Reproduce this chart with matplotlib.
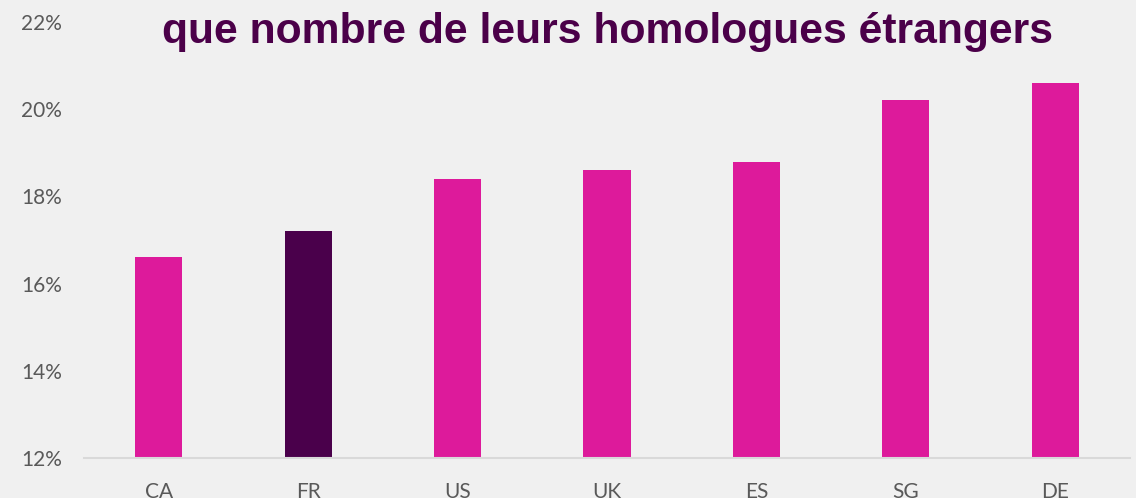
import matplotlib.pyplot as plt
import numpy as np

countries = ["CA", "FR", "US", "UK", "ES", "SG", "DE"]
values = [16.6, 17.2, 18.4, 18.6, 18.8, 20.2, 20.6]
highlight = "FR"
yticks = [12, 14, 16, 18, 20, 22]
title = "que nombre de leurs homologues étrangers"

pink = "#DD1A9B"
purple = "#4A004B"
bg = "#F0F0F0"

fig = plt.figure(figsize=(11.36, 4.98), dpi=100, facecolor=bg)
ax = fig.add_axes([84 / 1136, 40 / 498, 1046 / 1136, 436 / 498])
ax.set_facecolor(bg)

x = np.arange(len(countries))
colors = [purple if c == highlight else pink for c in countries]
ax.bar(x, [v - 12 for v in values], bottom=12, width=0.315, color=colors, zorder=2)

ax.set_xlim(-0.5, len(countries) - 0.5)
ax.set_ylim(12, 22)
ax.set_xticks(x)
ax.set_xticklabels(countries)
ax.set_yticks(yticks)
ax.set_yticklabels(["{}%".format(t) for t in yticks])

for s in ["top", "right", "left"]:
    ax.spines[s].set_visible(False)
ax.spines["bottom"].set_color("#D9D9D9")
ax.spines["bottom"].set_linewidth(1.5)
ax.spines["bottom"].set_zorder(3)

ax.tick_params(axis="both", length=0, labelcolor="#595959", labelsize=15)
ax.tick_params(axis="x", pad=17)
ax.tick_params(axis="y", pad=16)
for lab in ax.get_xticklabels() + ax.get_yticklabels():
    lab.set_family("Lato")

fig.text(607 / 1136, 1 - 43 / 498, title, ha="center", va="baseline",
         fontsize=30.7, fontweight="bold", color="#4B0049", family="Liberation Sans")

fig.savefig("out.png", dpi=100, facecolor=bg)
